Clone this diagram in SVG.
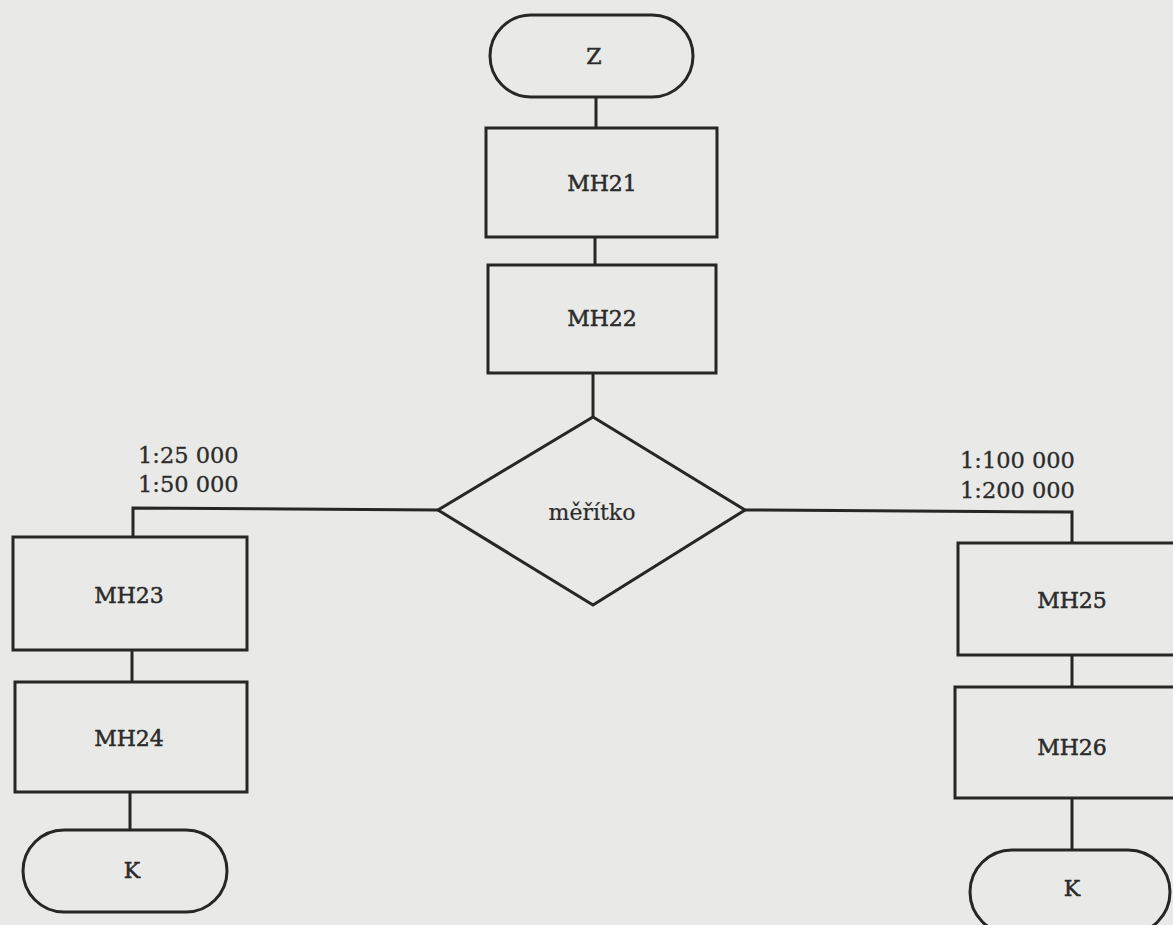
<svg xmlns="http://www.w3.org/2000/svg" width="1173" height="925" viewBox="0 0 1173 925">
<style>
.shape{fill:none;stroke:#262626;stroke-width:3;stroke-linejoin:miter}
.conn{fill:none;stroke:#262626;stroke-width:3}
.lbl{font-family:"DejaVu Serif","Liberation Serif",serif;font-size:22px;fill:#2b2b2b;stroke:#2b2b2b;stroke-width:0.5;text-anchor:middle;dominant-baseline:central}
.lab{font-family:"DejaVu Serif","Liberation Serif",serif;font-size:22.5px;fill:#2b2b2b;stroke:#2b2b2b;stroke-width:0.3;text-anchor:start}
</style>
<rect width="1173" height="925" fill="#e9e9e7"/>
<g id="connectors">
<line class="conn" x1="596" y1="97" x2="596" y2="128"/>
<line class="conn" x1="595" y1="237" x2="595" y2="265"/>
<line class="conn" x1="593" y1="373" x2="593" y2="418"/>
<polyline class="conn" points="438,510 133,508 133,537"/>
<polyline class="conn" points="745,510 1072,512 1072,543"/>
<line class="conn" x1="132" y1="650" x2="132" y2="682"/>
<line class="conn" x1="130" y1="792" x2="130" y2="830"/>
<line class="conn" x1="1072" y1="655" x2="1072" y2="687"/>
<line class="conn" x1="1072" y1="798" x2="1072" y2="850"/>
<text class="lab" x="138" y="463">1:25 000</text>
<text class="lab" x="138" y="492">1:50 000</text>
<text class="lab" x="960" y="468">1:100 000</text>
<text class="lab" x="960" y="498">1:200 000</text>
</g>
<g id="Z">
<rect class="shape" x="490" y="15" width="203" height="82" rx="41" ry="41"/>
<text class="lbl" x="594" y="56">Z</text>
</g>
<g id="MH21">
<rect class="shape" x="486" y="128" width="231" height="109"/>
<text class="lbl" x="602" y="183">MH21</text>
</g>
<g id="MH22">
<rect class="shape" x="488" y="265" width="228" height="108"/>
<text class="lbl" x="602" y="318">MH22</text>
</g>
<g id="meritko">
<polygon class="shape" points="593,417 745,510 593,605 438,510"/>
<text class="lbl" x="592" y="512" style="stroke-width:0.2">měřítko</text>
</g>
<g id="MH23">
<rect class="shape" x="13" y="537" width="234" height="113"/>
<text class="lbl" x="129" y="595">MH23</text>
</g>
<g id="MH24">
<rect class="shape" x="15" y="682" width="232" height="110"/>
<text class="lbl" x="129" y="738">MH24</text>
</g>
<g id="K1">
<rect class="shape" x="23" y="830" width="204" height="82" rx="41" ry="41"/>
<text class="lbl" x="132" y="870">K</text>
</g>
<g id="MH25">
<rect class="shape" x="958" y="543" width="230" height="112"/>
<text class="lbl" x="1072" y="600">MH25</text>
</g>
<g id="MH26">
<rect class="shape" x="955" y="687" width="233" height="111"/>
<text class="lbl" x="1072" y="747">MH26</text>
</g>
<g id="K2">
<rect class="shape" x="970" y="850" width="200" height="84" rx="42" ry="42"/>
<text class="lbl" x="1072" y="888">K</text>
</g>
</svg>
